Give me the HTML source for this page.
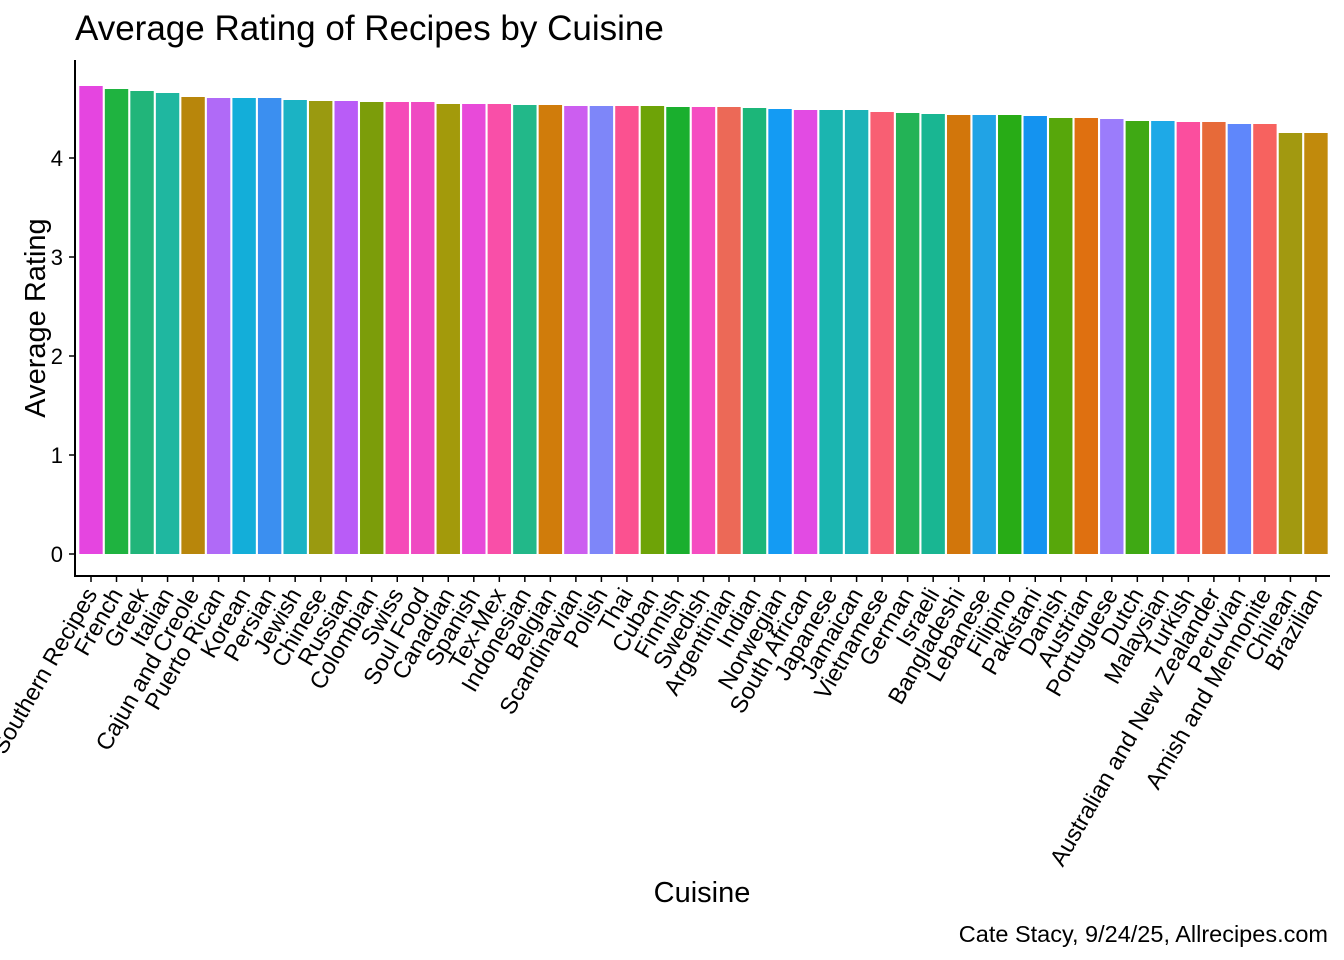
<!DOCTYPE html>
<html><head><meta charset="utf-8"><style>body{margin:0;background:#fff}svg{display:block}</style></head><body>
<svg id="s" width="1344" height="960" xmlns="http://www.w3.org/2000/svg" font-family="Liberation Sans, Arial, sans-serif">
<rect width="1344" height="960" fill="#fff"/>
<text x="75" y="40" font-size="35" fill="#000">Average Rating of Recipes by Cuisine</text>
<g id="bars"></g>
<line x1="75" y1="60" x2="75" y2="577" stroke="#000" stroke-width="2"/>
<line x1="74" y1="576" x2="1330" y2="576" stroke="#000" stroke-width="2"/>
<g font-size="22" text-anchor="end" fill="#000">
<text x="63" y="562">0</text><text x="63" y="463">1</text><text x="63" y="364">2</text><text x="63" y="265">3</text><text x="63" y="166">4</text>
</g>
<g stroke="#000" stroke-width="1.5">
<line x1="69" y1="554" x2="75" y2="554"/><line x1="69" y1="455" x2="75" y2="455"/><line x1="69" y1="356" x2="75" y2="356"/><line x1="69" y1="257" x2="75" y2="257"/><line x1="69" y1="158" x2="75" y2="158"/>
</g>
<g id="xl" font-size="23.5" fill="#000" text-anchor="end"></g>
<text transform="translate(45,318) rotate(-90)" font-size="29" text-anchor="middle">Average Rating</text>
<text x="702" y="902" font-size="29" text-anchor="middle">Cuisine</text>
<text x="1328" y="942" font-size="23.5" text-anchor="end">Cate Stacy, 9/24/25, Allrecipes.com</text>
</svg>
<script>
var n=["Southern Recipes","French","Greek","Italian","Cajun and Creole","Puerto Rican","Korean","Persian","Jewish","Chinese","Russian","Colombian","Swiss","Soul Food","Canadian","Spanish","Tex-Mex","Indonesian","Belgian","Scandinavian","Polish","Thai","Cuban","Finnish","Swedish","Argentinian","Indian","Norwegian","South African","Japanese","Jamaican","Vietnamese","German","Israeli","Bangladeshi","Lebanese","Filipino","Pakistani","Danish","Austrian","Portuguese","Dutch","Malaysian","Turkish","Australian and New Zealander","Peruvian","Amish and Mennonite","Chilean","Brazilian"];
var t=[86,89,91,93,97,98,98,98,100,101,101,102,102,102,104,104,104,105,105,106,106,106,106,107,107,107,108,109,110,110,110,112,113,114,115,115,115,116,118,118,119,121,121,122,122,124,124,133,133];
var c=["#e545e0","#1fb340","#21b57a","#1fb7a0","#b8860b","#b06af7","#13aed9","#3b8ff0","#1bb3c4","#9a9a10","#b95cf7","#7c9d0a","#f54bb8","#ef4ac2","#a39a0b","#e84ad9","#f94fa8","#22b889","#d07c0b","#cc5ef0","#7e86f9","#fb5190","#6ea307","#1aaf2e","#f54cc1","#ec6957","#1cb679","#149bf3","#e24be3","#1bb5b0","#1cb3b8","#f85f73","#23b356","#19b692","#d2760b","#21a3e5","#28ac16","#1493f0","#57a70b","#df7010","#9b7cfb","#3fa914","#1ea9e7","#fb4e9e","#e76a39","#5f87fb","#f7625f","#a29910","#c18a0c"];
var ns="http://www.w3.org/2000/svg",b=document.getElementById("bars"),xl=document.getElementById("xl"),s=document.getElementById("s");
for(var i=0;i<49;i++){var x=91+i*25.52;
var r=document.createElementNS(ns,"rect");r.setAttribute("x",x-11.7);r.setAttribute("y",t[i]);r.setAttribute("width",23.4);r.setAttribute("height",554-t[i]);r.setAttribute("fill",c[i]);b.appendChild(r);
var l=document.createElementNS(ns,"line");l.setAttribute("x1",x);l.setAttribute("x2",x);l.setAttribute("y1",577);l.setAttribute("y2",582);l.setAttribute("stroke","#000");l.setAttribute("stroke-width","1.5");s.appendChild(l);
var tx=document.createElementNS(ns,"text");tx.setAttribute("transform","translate("+(x+7)+",594) rotate(-60)");tx.textContent=n[i];xl.appendChild(tx);}
</script>
</body></html>
